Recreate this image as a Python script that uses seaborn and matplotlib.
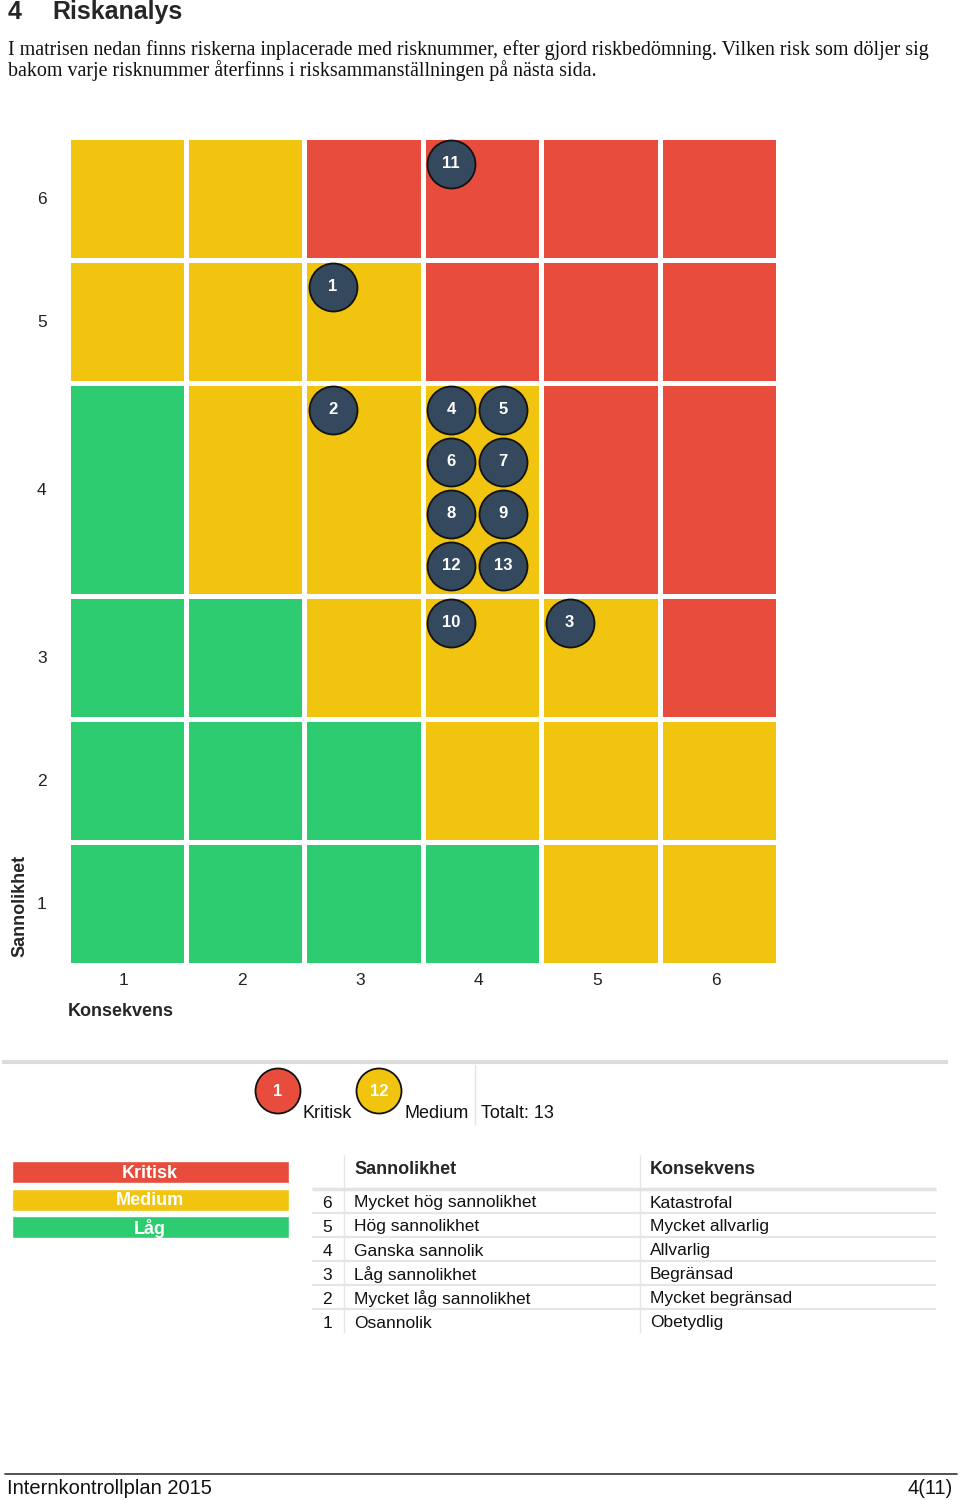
import numpy as np
import pandas as pd
import matplotlib
matplotlib.use("Agg")
import matplotlib.pyplot as plt
import seaborn as sns
from matplotlib.colors import ListedColormap

# Risk data (number, sannolikhet, konsekvens)
risk_ids = [1, 2, 3, 4, 5, 6, 7, 8, 9, 10, 11, 12, 13]
risk_sannolikhet = [5, 4, 3, 4, 4, 4, 4, 4, 4, 3, 6, 4, 4]
risk_konsekvens = [3, 3, 5, 4, 4, 4, 4, 4, 4, 4, 4, 4, 4]

scale = [1, 2, 3, 4, 5, 6]
# risk level per cell, rows = sannolikhet 1..6, cols = konsekvens 1..6
# 0 = Låg, 1 = Medium, 2 = Kritisk
level_matrix = [
    [0, 0, 0, 0, 1, 1],
    [0, 0, 0, 1, 1, 1],
    [0, 0, 1, 1, 1, 2],
    [0, 1, 1, 1, 2, 2],
    [1, 1, 1, 2, 2, 2],
    [1, 1, 2, 2, 2, 2],
]
level_names = ["Låg", "Medium", "Kritisk"]
level_colors = ["#2ecc71", "#f1c40f", "#e74c3c"]

sannolikhet_text = ["Osannolik", "Mycket låg sannolikhet", "Låg sannolikhet",
                    "Ganska sannolik", "Hög sannolikhet",
                    "Mycket hög sannolikhet"]
konsekvens_text = ["Obetydlig", "Mycket begränsad", "Begränsad",
                   "Allvarlig", "Mycket allvarlig", "Katastrofal"]

title_text = "Riskanalys"
intro_lines = [
    "I matrisen nedan finns riskerna inplacerade med risknummer, efter gjord "
    "riskbedömning. Vilken risk som döljer sig",
    "bakom varje risknummer återfinns i risksammanställningen på nästa sida.",
]
footer_left = "Internkontrollplan 2015"
footer_right = "4(11)"

sns.set_theme(style="white")
plt.rcParams["font.family"] = ["Liberation Sans", "DejaVu Sans"]

W, H = 960, 1500
fig = plt.figure(figsize=(W / 100, H / 100), dpi=100)

# grid geometry (pixels)
col_pitch = 118.4
circ_step = 52
risks = pd.DataFrame({"id": risk_ids, "s": risk_sannolikhet,
                      "k": risk_konsekvens}).sort_values("id")
row_pitch = []
for s in scale:
    n = risks[risks.s == s].groupby("k").size().max()
    n = 0 if np.isnan(n) else n
    rows = int(np.ceil(n / 2))
    row_pitch.append(max(118, circ_step * rows) + 5)
x_edges = np.concatenate([[0], np.cumsum([col_pitch] * 6)])
y_edges = np.concatenate([[0], np.cumsum(row_pitch)])
grid_left, grid_top = 67.5, 136.5
gw, gh = x_edges[-1], y_edges[-1]

ax = fig.add_axes([grid_left / W, 1 - (grid_top + gh) / H, gw / W, gh / H])
ax.pcolormesh(x_edges, y_edges, np.array(level_matrix),
              cmap=ListedColormap(level_colors), vmin=-0.5, vmax=2.5,
              edgecolors="white", linewidth=3.6)

# place circles inside each cell, two per line
px, py = [], []
for s in scale:
    for k in scale:
        ids = risks[(risks.s == s) & (risks.k == k)]
        for i, _ in enumerate(ids.id):
            px.append(x_edges[k - 1] + 28.5 + circ_step * (i % 2))
            py.append(y_edges[s] - 27 - circ_step * (i // 2))
risks_sorted = pd.concat([risks[(risks.s == s) & (risks.k == k)]
                          for s in scale for k in scale])
risks_sorted = risks_sorted.assign(px=px, py=py)
sns.scatterplot(data=risks_sorted, x="px", y="py", s=1194, color="#34495e",
                edgecolor="#111111", linewidth=1.3, legend=False, ax=ax,
                zorder=3)
for rid, x, y in zip(risks_sorted.id, risks_sorted.px, risks_sorted.py):
    ax.text(x, y, str(int(rid)), color="white", fontsize=12,
            fontweight="bold", ha="center", va="center", zorder=4)

ax.set_xlim(0, gw)
ax.set_ylim(0, gh)
ax.set_xticks((x_edges[:-1] + x_edges[1:]) / 2 - 3, [str(v) for v in scale])
ax.set_yticks((y_edges[:-1] + y_edges[1:]) / 2, [str(v) for v in scale])
ax.tick_params(axis="x", length=0, pad=6, labelsize=12.5, colors="#222222")
ax.tick_params(axis="y", length=0, pad=15, labelsize=12.5, colors="#222222")
ax.set_xlabel("")
ax.set_ylabel("")
for sp in ax.spines.values():
    sp.set_visible(False)

# page overlay in pixel coordinates
page = fig.add_axes([0, 0, 1, 1], zorder=-1)
page.set_xlim(0, W)
page.set_ylim(H, 0)
page.axis("off")

page.text(8, 12, "4", fontsize=18, fontweight="bold", va="center")
page.text(52, 12, title_text, fontsize=18, fontweight="bold", va="center")
for i, line in enumerate(intro_lines):
    page.text(8, 50 + 21 * i, line, fontsize=14.4, va="center",
              family=["Liberation Serif", "DejaVu Serif"], color="#111111")

page.text(20, 957, "Sannolikhet", rotation=90, ha="center", va="bottom",
          fontsize=13, fontweight="bold")
page.text(68, 1012, "Konsekvens", ha="left", va="center", fontsize=13,
          fontweight="bold")

page.plot([2, 948], [1062, 1062], color="#dcdcdc", lw=3, solid_capstyle="butt")

# summary legend
lvl = [level_matrix[s - 1][k - 1] for s, k in
       zip(risk_sannolikhet, risk_konsekvens)]
summary = pd.DataFrame({"level": [2, 1],
                        "count": [lvl.count(2), lvl.count(1)],
                        "x": [278, 379], "y": [1091, 1091]})
sns.scatterplot(data=summary, x="x", y="y", hue="level",
                palette={2: level_colors[2], 1: level_colors[1]}, s=1050,
                edgecolor="#111111", linewidth=1.3, legend=False, ax=page)
for lv, cnt, x, y in zip(summary.level, summary["count"], summary.x,
                         summary.y):
    page.text(x, y, str(int(cnt)), color="white", fontsize=12,
              fontweight="bold", ha="center", va="center")
    page.text(x + 25, 1113, level_names[int(lv)], fontsize=13,
              ha="left", va="center", color="#111111")
page.plot([475, 475], [1065, 1124], color="#e3e3e3", lw=1)
page.text(481, 1113, f"Totalt: {len(risk_ids)}", fontsize=13, ha="left",
          va="center", color="#111111")

# level bars
bar_y = [1172, 1199.5, 1227]
for y, lv in zip(bar_y, [2, 1, 0]):
    page.barh(y, 277, left=12, height=22, color=level_colors[lv])
    page.text(150, y + 1, level_names[lv], color="white", fontsize=13,
              fontweight="bold", ha="center", va="center")

# table
page.vlines([344, 640], 1155, 1333, color="#e6e6e6", lw=1)
page.hlines(1189, 312, 936, color="#e3e3e3", lw=2.5)
page.hlines([1213, 1237, 1261, 1285, 1309], 312, 936, color="#e6e6e6", lw=1.6)
page.text(354, 1169, "Sannolikhet", fontsize=13, fontweight="bold",
          va="center")
page.text(650, 1169, "Konsekvens", fontsize=13, fontweight="bold",
          va="center")
for i, v in enumerate(scale[::-1]):
    y = 1203 + 24 * i
    page.text(332, y, str(v), fontsize=12.5, ha="right", va="center",
              color="#111111")
    page.text(354, y, sannolikhet_text[v - 1], fontsize=12.5, va="center",
              color="#111111")
    page.text(650, y, konsekvens_text[v - 1], fontsize=12.5, va="center",
              color="#111111")

# footer
page.plot([5, 957], [1474, 1474], color="#333333", lw=1.2)
page.text(7, 1489, footer_left, fontsize=14.5, va="center", color="#111111")
page.text(953, 1489, footer_right, fontsize=14.5, va="center", ha="right",
          color="#111111")

fig.savefig("out.png", dpi=100)
